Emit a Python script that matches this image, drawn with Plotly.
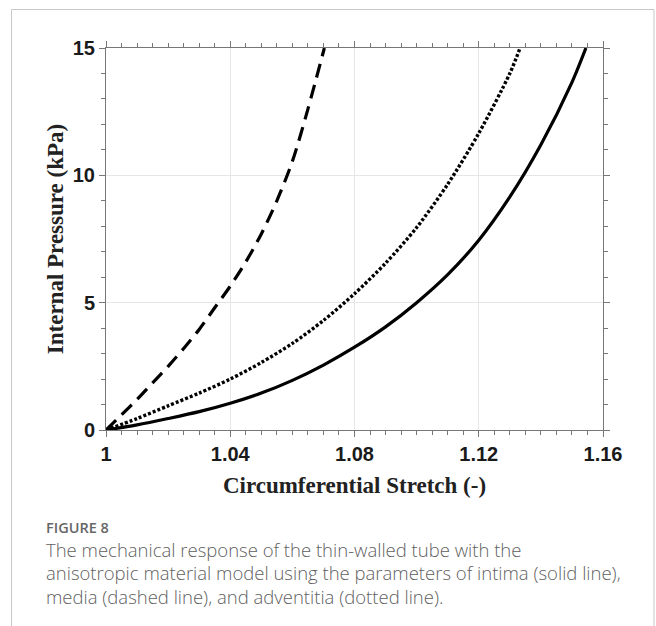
import plotly.graph_objects as go

# ---- data ----
intima_x = [1.0, 1.01, 1.02, 1.03, 1.04, 1.05, 1.06, 1.07, 1.08, 1.09, 1.10, 1.11, 1.12, 1.13, 1.14, 1.15, 1.1545]
intima_y = [0.0, 0.2, 0.45, 0.72, 1.05, 1.45, 1.95, 2.55, 3.25, 4.05, 5.0, 6.1, 7.45, 9.15, 11.2, 13.65, 15.0]

media_x = [1.0, 1.005, 1.01, 1.015, 1.02, 1.025, 1.03, 1.035, 1.04, 1.045, 1.05, 1.055, 1.06, 1.065, 1.0703]
media_y = [0.0, 0.6, 1.2, 1.85, 2.5, 3.2, 3.95, 4.8, 5.65, 6.6, 7.7, 9.0, 10.55, 12.6, 15.0]

advent_x = [1.0, 1.01, 1.02, 1.03, 1.04, 1.05, 1.06, 1.07, 1.08, 1.09, 1.10, 1.11, 1.12, 1.13, 1.1333]
advent_y = [0.0, 0.45, 0.95, 1.45, 2.0, 2.65, 3.4, 4.3, 5.35, 6.55, 7.95, 9.65, 11.65, 14.0, 15.0]

x_tickvals = [1.0, 1.04, 1.08, 1.12, 1.16]
x_ticktext = ["1", "1.04", "1.08", "1.12", "1.16"]
y_tickvals = [0, 5, 10, 15]
y_ticktext = ["0", "5", "10", "15"]

x_title = "Circumferential Stretch (-)"
y_title = "Internal Pressure (kPa)"
fig_label = "FIGURE 8"
caption_lines = [
    "The mechanical response of the thin-walled tube with the",
    "anisotropic material model using the parameters of intima (solid line),",
    "media (dashed line), and adventitia (dotted line).",
]

# ---- layout geometry (pixels) ----
W, H = 656, 626
L, R, T, B = 106, 603, 48, 430
pw, ph = R - L, B - T

def px_x(p):
    return (p - L) / pw

def px_y(p):
    return (B - p) / ph

fig = go.Figure()
fig.add_trace(go.Scatter(x=intima_x, y=intima_y, mode="lines",
                         line=dict(color="black", width=3.2, dash="solid", shape="spline", smoothing=0.8),
                         name="intima", showlegend=False))
fig.add_trace(go.Scatter(x=media_x, y=media_y, mode="lines",
                         line=dict(color="black", width=3.2, dash="14px,8px", shape="spline", smoothing=0.8),
                         name="media", showlegend=False))
fig.add_trace(go.Scatter(x=advent_x, y=advent_y, mode="lines",
                         line=dict(color="black", width=3.4, dash="3px,2px", shape="spline", smoothing=0.8),
                         name="adventitia", showlegend=False))

axis_common = dict(
    showline=True, linecolor="#777", linewidth=1, mirror="allticks",
    ticks="outside", ticklen=6, tickcolor="#777", tickwidth=1,
    showgrid=True, gridcolor="#e6e6e6", gridwidth=1, zeroline=False,
    tickfont=dict(family="Liberation Sans, Arial", size=20, color="#1a1a1a", weight="bold"),
)

title_font = dict(family="Liberation Serif, Times New Roman", size=23, color="#222", weight="bold")

fig.update_xaxes(range=[1.0, 1.16], tickvals=x_tickvals, ticktext=x_ticktext,
                 minor=dict(dtick=0.005, ticks="outside", ticklen=4, tickcolor="#777", showgrid=False),
                 title=dict(text=x_title, standoff=12, font=title_font),
                 **axis_common)
fig.update_yaxes(range=[0, 15], tickvals=y_tickvals, ticktext=y_ticktext,
                 minor=dict(dtick=1, ticks="outside", ticklen=4, tickcolor="#777", showgrid=False),
                 title=dict(text=y_title, standoff=2, font=title_font),
                 **axis_common)

# card border
fig.add_shape(type="rect", xref="paper", yref="paper",
              x0=px_x(11.5), x1=px_x(654), y0=px_y(640), y1=px_y(9.5),
              line=dict(color="#c8c8c8", width=1), fillcolor="rgba(0,0,0,0)", layer="below")

fig.add_annotation(xref="paper", yref="paper", x=px_x(44), y=px_y(527),
                   xanchor="left", yanchor="middle", showarrow=False,
                   text=fig_label, font=dict(family="Open Sans", size=14.5, color="#666", weight=600))
for i, line in enumerate(caption_lines):
    fig.add_annotation(xref="paper", yref="paper", x=px_x(44), y=px_y(549 + i * 23.5),
                       xanchor="left", yanchor="middle", showarrow=False,
                       text=line, font=dict(family="Open Sans", size=18.5, color="#5f5f5f", weight=300))

fig.update_layout(width=W, height=H, margin=dict(l=L, r=W - R, t=T, b=H - B),
                  paper_bgcolor="white", plot_bgcolor="white")

fig.write_html("out.html")
